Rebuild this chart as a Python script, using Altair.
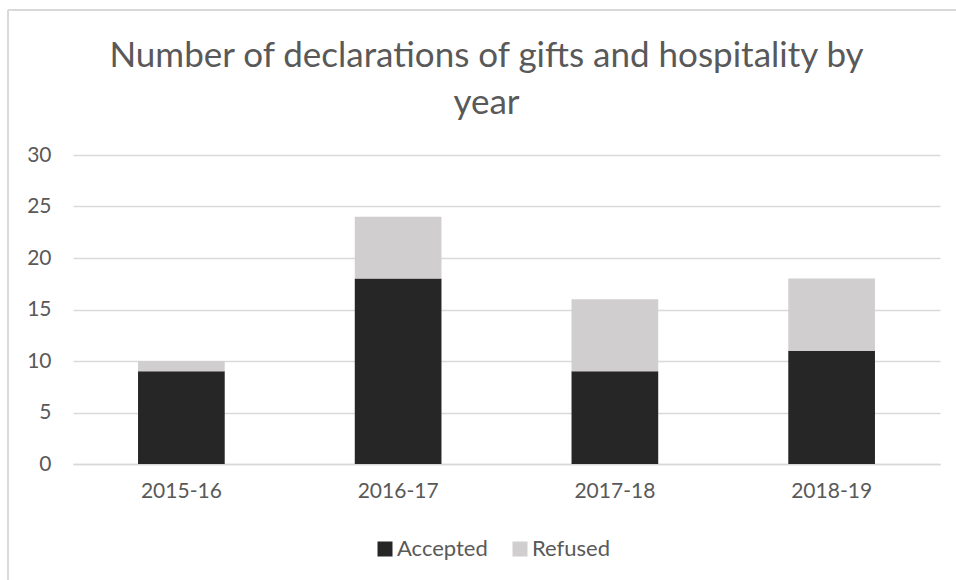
import altair as alt
import pandas as pd

years = ["2015-16", "2016-17", "2017-18", "2018-19"]
accepted = [9, 18, 9, 11]
refused = [1, 6, 7, 7]
series = ["Accepted", "Refused"]
colors = ["#262626", "#d0cece"]

rows = []
for i, y in enumerate(years):
    rows.append({"year": y, "status": "Accepted", "value": accepted[i], "order": 0})
    rows.append({"year": y, "status": "Refused", "value": refused[i], "order": 1})
df = pd.DataFrame(rows)

FONT = "Lato"
TXT = "#595959"

bars = alt.Chart(df).mark_bar().encode(
    x=alt.X("year:N", sort=years, title=None,
            scale=alt.Scale(paddingInner=0.6, paddingOuter=0.3),
            axis=alt.Axis(labelAngle=0, ticks=False, domain=True, domainColor="#d9d9d9",
                          domainWidth=1.5, labelFontSize=21, labelColor=TXT,
                          labelFont=FONT, labelPadding=16, grid=False)),
    y=alt.Y("value:Q", stack="zero", title=None,
            scale=alt.Scale(domain=[0, 30]),
            axis=alt.Axis(values=[0, 5, 10, 15, 20, 25, 30], ticks=False, domain=False,
                          gridColor="#d9d9d9", gridWidth=1.5, labelFontSize=21,
                          labelColor=TXT, labelFont=FONT, labelPadding=22)),
    color=alt.Color("status:N", sort=series,
                    scale=alt.Scale(domain=series, range=colors),
                    legend=alt.Legend(title=None, orient="none", direction="horizontal",
                                      legendX=301, legendY=383, symbolType="square",
                                      symbolSize=225, symbolStrokeWidth=0,
                                      labelFontSize=22, labelColor=TXT, labelFont=FONT,
                                      labelOffset=1, columnPadding=21)),
    order=alt.Order("order:Q"),
)

border_top = alt.Chart(df).mark_rule(color="#d9d9d9", strokeWidth=1.5).encode(
    x=alt.value(-65), x2=alt.value(900), y=alt.value(-145))
border_left = alt.Chart(df).mark_rule(color="#d9d9d9", strokeWidth=1.5).encode(
    x=alt.value(-65), y=alt.value(-145), y2=alt.value(430))

chart = alt.layer(bars, border_top, border_left).properties(
    width=867, height=309,
    autosize=alt.AutoSizeParams(type="none"),
    padding={"left": 73, "top": 155, "right": 16, "bottom": 116},
    title=alt.TitleParams(
        text=["Number of declarations of gifts and hospitality by", "year"],
        fontSize=35, font=FONT, fontWeight="normal", color=TXT,
        anchor="middle", dx=-20, offset=-112, lineHeight=47),
).configure_view(stroke=None)

chart.save("out.html", embed_options={"renderer": "svg", "actions": False})
